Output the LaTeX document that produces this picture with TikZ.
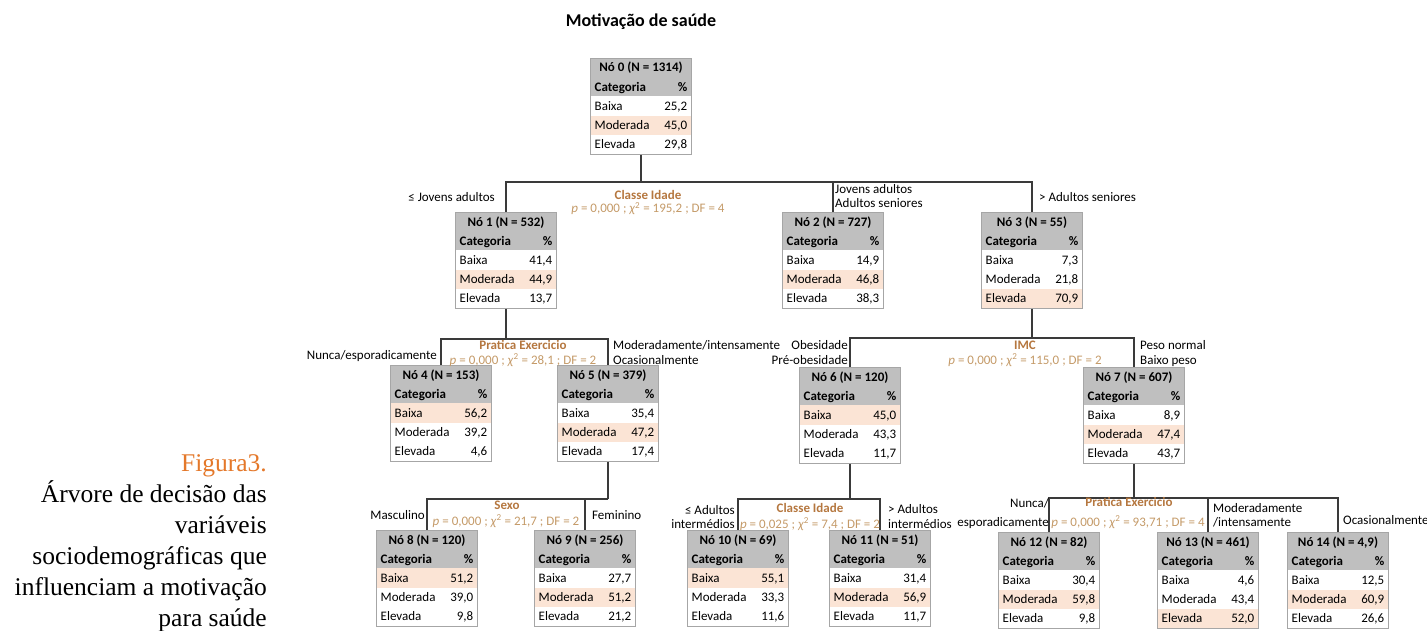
\documentclass[tikz,border=0pt]{standalone}
\usepackage{fontspec}
\setmainfont{Carlito}
\newfontfamily\capfont{Liberation Serif}
\definecolor{hdr}{HTML}{BFBFBF}
\definecolor{hl}{HTML}{FBE4D5}
\definecolor{bord}{HTML}{A6A6A6}
\definecolor{lbltitle}{HTML}{B5773F}
\definecolor{lblform}{HTML}{C49A68}
\definecolor{figor}{HTML}{E4782A}
\definecolor{conn}{HTML}{3A3A3A}
\tikzset{
  txt/.style={inner sep=0pt, font=\fontsize{13}{15}\selectfont},
  btxt/.style={inner sep=0pt, font=\fontsize{13}{15}\selectfont\bfseries},
  cond/.style={txt, text=black},
  ttl/.style={btxt, text=lbltitle, anchor=base},
  form/.style={txt, text=lblform, anchor=base},
  connline/.style={draw=conn, line width=1.1pt},
  tbox/.style={draw=bord, line width=0.8pt, minimum width=101pt, minimum height=96pt, inner sep=0pt, anchor=north},
  capt/.style={inner sep=0pt, font=\capfont\fontsize{25.5}{31}\selectfont, anchor=base east},
}
\newcommand{\tnode}[8]{%
  \begin{scope}[shift={(#2,#3)}]
    \fill[hdr] (-50.5,0) rectangle (50.5,38.4);
    \fill[hl] (-50.5,{38.4+19.2*(#8-1)}) rectangle (50.5,{38.4+19.2*#8});
    \node[btxt, anchor=base] (#1h) at (0,14) {#4};
    \node[btxt, anchor=base west] (#1c) at (-46.5,33.2) {Categoria};
    \node[btxt, anchor=base east] (#1p) at (46.5,33.2) {\%};
    \node[txt, anchor=base west] (#1bl) at (-46.5,52.4) {Baixa};
    \node[txt, anchor=base east] (#1bv) at (46.5,52.4) {#5};
    \node[txt, anchor=base west] (#1ml) at (-46.5,71.6) {Moderada};
    \node[txt, anchor=base east] (#1mv) at (46.5,71.6) {#6};
    \node[txt, anchor=base west] (#1el) at (-46.5,90.8) {Elevada};
    \node[txt, anchor=base east] (#1ev) at (46.5,90.8) {#7};
  \end{scope}
  \node[tbox] (#1) at (#2,#3) {};
}
\begin{document}
\begin{tikzpicture}[x=1pt,y=-1pt]
\useasboundingbox (0,0) rectangle (1427,631);

% title
\node[inner sep=0pt, font=\fontsize{18}{20}\selectfont\bfseries, anchor=base] (title) at (641,27) {Motivação de saúde};

% tree nodes
\tnode{n0}{641}{58}{Nó 0 (N = 1314)}{25,2}{45,0}{29,8}{2}
\tnode{n1}{506}{212}{Nó 1 (N = 532)}{41,4}{44,9}{13,7}{2}
\tnode{n2}{833}{212}{Nó 2 (N = 727)}{14,9}{46,8}{38,3}{2}
\tnode{n3}{1032}{212}{Nó 3 (N = 55)}{7,3}{21,8}{70,9}{3}
\tnode{n4}{441}{365}{Nó 4 (N = 153)}{56,2}{39,2}{4,6}{1}
\tnode{n5}{608}{365}{Nó 5 (N = 379)}{35,4}{47,2}{17,4}{2}
\tnode{n6}{850}{367}{Nó 6 (N = 120)}{45,0}{43,3}{11,7}{1}
\tnode{n7}{1134}{367}{Nó 7 (N = 607)}{8,9}{47,4}{43,7}{2}
\tnode{n8}{427}{530}{Nó 8 (N = 120)}{51,2}{39,0}{9,8}{1}
\tnode{n9}{585}{530}{Nó 9 (N = 256)}{27,7}{51,2}{21,2}{2}
\tnode{n10}{738}{530}{Nó 10 (N = 69)}{55,1}{33,3}{11,6}{1}
\tnode{n11}{880}{530}{Nó 11 (N = 51)}{31,4}{56,9}{11,7}{2}
\tnode{n12}{1049}{532}{Nó 12 (N = 82)}{30,4}{59,8}{9,8}{2}
\tnode{n13}{1208}{532}{Nó 13 (N = 461)}{4,6}{43,4}{52,0}{3}
\tnode{n14}{1338}{532}{Nó 14 (N = 4,9)}{12,5}{60,9}{26,6}{2}

% connectors
\coordinate (b0) at (641,182);
\draw[connline] (n0.south) -- (b0);
\draw[connline] (b0) -| (n1.north);
\draw[connline] (b0) -| (n2.north);
\draw[connline] (b0) -| (n3.north);

\coordinate (b1) at (506,339);
\draw[connline] (n1.south) -- (b1);
\draw[connline] (b1) -| (n4.north);
\draw[connline] (b1) -| (n5.north);

\coordinate (b3) at (1032,338);
\draw[connline] (n3.south) -- (b3);
\draw[connline] (b3) -| (n6.north);
\draw[connline] (b3) -| (n7.north);

\coordinate (b5) at (608,499);
\draw[connline] (n5.south) -- (b5);
\draw[connline] (b5) -| (n8.north);
\draw[connline] (b5) -| (n9.north);

\coordinate (b6) at (850,499);
\draw[connline] (n6.south) -- (b6);
\draw[connline] (b6) -| (n10.north);
\draw[connline] (b6) -| (n11.north);

\coordinate (b7) at (1134,498);
\draw[connline] (n7.south) -- (b7);
\draw[connline] (b7) -| (n12.north);
\draw[connline] (b7) -| (n13.north);
\draw[connline] (b7) -| (n14.north);

% level 1 labels
\node[cond, anchor=base east] (c1) at (495,202) {≤ Jovens adultos};
\node[ttl] (s0t) at (648,200) {Classe Idade};
\node[form] (s0f) at (648,213) {\textit{p} = 0,000 ; \textit{χ}\textsuperscript{2} = 195,2 ; DF = 4};
\node[cond, anchor=base west] (c2a) at (835,194) {Jovens adultos};
\node[cond, anchor=base west] (c2b) at (835,208) {Adultos seniores};
\node[cond, anchor=base west] (c3) at (1039,202) {> Adultos seniores};

% level 2 labels
\node[cond, anchor=base east] (c4) at (437,359) {Nunca/esporadicamente};
\node[ttl] (s1t) at (523,349) {Pratica Exercicio};
\node[form] (s1f) at (523,364) {\textit{p} = 0,000 ; \textit{χ}\textsuperscript{2} = 28,1 ; DF = 2};
\node[cond, anchor=base west] (c5a) at (613,349) {Moderadamente/intensamente};
\node[cond, anchor=base west] (c5b) at (613,364) {Ocasionalmente};
\node[cond, anchor=base east] (c6a) at (848,349) {Obesidade};
\node[cond, anchor=base east] (c6b) at (848,364) {Pré-obesidade};
\node[ttl] (s3t) at (1025,349) {IMC};
\node[form] (s3f) at (1025,364) {\textit{p} = 0,000 ; \textit{χ}\textsuperscript{2} = 115,0 ; DF = 2};
\node[cond, anchor=base west] (c7a) at (1140,349) {Peso normal};
\node[cond, anchor=base west] (c7b) at (1140,364) {Baixo peso};

% level 3 labels
\node[cond, anchor=base east] (c8) at (425,519) {Masculino};
\node[ttl] (s5t) at (507,509) {Sexo};
\node[form] (s5f) at (506,525) {\textit{p} = 0,000 ; \textit{χ}\textsuperscript{2} = 21,7 ; DF = 2};
\node[cond, anchor=base west] (c9) at (592,519) {Feminino};
\node[cond, anchor=base east] (c10a) at (735,514) {≤ Adultos};
\node[cond, anchor=base east] (c10b) at (735,528) {intermédios};
\node[ttl] (s6t) at (810,512) {Classe Idade};
\node[form] (s6f) at (810,528) {\textit{p} = 0,025 ; \textit{χ}\textsuperscript{2} = 7,4 ; DF = 2};
\node[cond, anchor=base west] (c11a) at (888,513) {> Adultos};
\node[cond, anchor=base west] (c11b) at (888,528) {intermédios};
\node[cond, anchor=base east] (c12a) at (1049,507) {Nunca/};
\node[cond, anchor=base east] (c12b) at (1049,526) {esporadicamente};
\node[ttl] (s7t) at (1129,506) {Pratica Exercicio};
\node[form] (s7f) at (1128,526) {\textit{p} = 0,000 ; \textit{χ}\textsuperscript{2} = 93,71 ; DF = 4};
\node[cond, anchor=base west] (c13a) at (1213,512) {Moderadamente};
\node[cond, anchor=base west] (c13b) at (1213,526) {/intensamente};
\node[cond, anchor=base west] (c14) at (1343,524) {Ocasionalmente};

% caption
\node[capt, text=figor] (cap0) at (267,471) {Figura3.};
\node[capt] (cap1) at (267,502) {Árvore de decisão das};
\node[capt] (cap2) at (267,533) {variáveis};
\node[capt] (cap3) at (267,564) {sociodemográficas que};
\node[capt] (cap4) at (267,595) {influenciam a motivação};
\node[capt] (cap5) at (267,626) {para saúde};
\end{tikzpicture}
\end{document}
